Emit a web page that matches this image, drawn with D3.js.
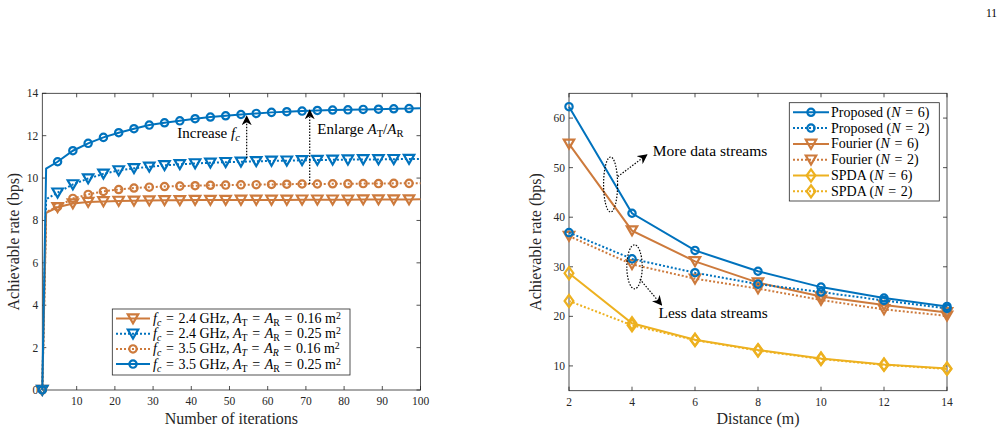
<!DOCTYPE html>
<html>
<head>
<meta charset="utf-8">
<script src="https://cdn.jsdelivr.net/npm/d3@7"></script>
<style>
  body { margin: 0; background: #fff; }
  svg { display: block; }
</style>
</head>
<body>
<svg></svg>
<script>
// ---- left panel data ----
const iters = [1, 2, 5, 9, 13, 17, 21, 25, 29, 33, 37, 41, 45, 49, 53, 57, 61, 65, 69, 73, 77, 81, 85, 89, 93, 97, 100];
const rate24_016 = [0, 8.36, 8.62, 8.8, 8.87, 8.9, 8.92, 8.93, 8.94, 8.95, 8.95, 8.96, 8.96, 8.96, 8.97, 8.97, 8.97, 8.97, 8.98, 8.98, 8.98, 8.98, 8.99, 8.99, 8.99, 8.99, 9.0];
const rate24_025 = [0, 9.0, 9.31, 9.7, 9.98, 10.2, 10.36, 10.46, 10.53, 10.6, 10.65, 10.69, 10.72, 10.75, 10.77, 10.79, 10.81, 10.82, 10.84, 10.85, 10.86, 10.87, 10.88, 10.88, 10.89, 10.9, 10.9];
const rate35_016 = [0, 8.4, 8.65, 9.04, 9.23, 9.37, 9.46, 9.53, 9.57, 9.6, 9.62, 9.64, 9.66, 9.67, 9.68, 9.69, 9.7, 9.71, 9.72, 9.72, 9.73, 9.73, 9.74, 9.74, 9.75, 9.75, 9.75];
const rate35_025 = [0, 10.45, 10.77, 11.29, 11.64, 11.92, 12.14, 12.33, 12.5, 12.61, 12.7, 12.8, 12.88, 12.94, 13.0, 13.05, 13.1, 13.13, 13.16, 13.19, 13.21, 13.22, 13.24, 13.25, 13.27, 13.28, 13.3];
const leftXTicks = [10, 20, 30, 40, 50, 60, 70, 80, 90, 100];
const leftYTicks = [0, 2, 4, 6, 8, 10, 12, 14];

// ---- right panel data ----
const distance = [2, 4, 6, 8, 10, 12, 14];
const proposedN6 = [62.3, 40.8, 33.3, 29.1, 25.9, 23.7, 22.0];
const proposedN2 = [36.9, 31.6, 28.8, 26.5, 24.9, 23.2, 21.6];
const fourierN6 = [54.8, 37.3, 31.1, 26.8, 24.0, 22.3, 20.8];
const fourierN2 = [36.2, 30.5, 27.6, 25.6, 23.3, 21.4, 20.1];
const spdaN6 = [28.7, 18.6, 15.3, 13.2, 11.5, 10.3, 9.5];
const spdaN2 = [23.1, 18.2, 15.2, 13.1, 11.4, 10.2, 9.4];
const rightXTicks = [2, 4, 6, 8, 10, 12, 14];
const rightYTicks = [10, 20, 30, 40, 50, 60];

const blue = "#0072BD", orange = "#CD7A3C", yellow = "#EDB120";
const font = "'Liberation Serif', 'DejaVu Serif', serif";
const EQ = "\u2004=\u2004"; // wider math spacing round "="

const svg = d3.select("svg")
    .attr("width", 1005)
    .attr("height", 434)
    .style("font-family", font);

svg.append("defs").append("marker")
    .attr("id", "arrow")
    .attr("viewBox", "0 0 10 10")
    .attr("refX", 9).attr("refY", 5)
    .attr("markerWidth", 10).attr("markerHeight", 10)
    .attr("markerUnits", "userSpaceOnUse")
    .attr("orient", "auto")
    .append("path")
    .attr("d", "M0,0 L10,5 L0,10 L3,5 Z")
    .attr("fill", "black");

// page number
svg.append("text").attr("x", 997).attr("y", 17).attr("text-anchor", "end")
    .attr("font-size", "11.5px").text("11");

function markerPath(type, size) {
    const s = size;
    if (type === "circle") return d3.symbol(d3.symbolCircle, s * s * 0.52)();
    if (type === "tri") return `M${-s * 0.52},${-s * 0.42} L${s * 0.52},${-s * 0.42} L0,${s * 0.48} Z`;
    if (type === "diamond") return `M0,${-s * 0.55} L${s * 0.4},0 L0,${s * 0.55} L${-s * 0.4},0 Z`;
}

function drawFrame(g, x, y, xTicks, yTicks) {
    const [x0, x1] = x.range(), [y0, y1] = y.range();
    g.append("rect").attr("x", x0).attr("y", y1).attr("width", x1 - x0).attr("height", y0 - y1)
        .attr("fill", "none").attr("stroke", "#262626").attr("stroke-width", 0.8);
    const tl = 4;
    xTicks.forEach(t => {
        g.append("line").attr("x1", x(t)).attr("x2", x(t)).attr("y1", y0).attr("y2", y0 - tl).attr("stroke", "#262626").attr("stroke-width", 0.8);
        g.append("line").attr("x1", x(t)).attr("x2", x(t)).attr("y1", y1).attr("y2", y1 + tl).attr("stroke", "#262626").attr("stroke-width", 0.8);
        g.append("text").attr("x", x(t)).attr("y", y0 + 15).attr("text-anchor", "middle")
            .attr("font-size", "11.5px").attr("fill", "#262626").text(t);
    });
    yTicks.forEach(t => {
        g.append("line").attr("x1", x0).attr("x2", x0 + tl).attr("y1", y(t)).attr("y2", y(t)).attr("stroke", "#262626").attr("stroke-width", 0.8);
        g.append("line").attr("x1", x1).attr("x2", x1 - tl).attr("y1", y(t)).attr("y2", y(t)).attr("stroke", "#262626").attr("stroke-width", 0.8);
        g.append("text").attr("x", x0 - 4).attr("y", y(t) + 4).attr("text-anchor", "end")
            .attr("font-size", "11.5px").attr("fill", "#262626").text(t);
    });
}

function drawSeries(g, xs, ys, x, y, s, showMarker) {
    const pts = xs.map((v, i) => [x(v), y(ys[i])]);
    g.append("path").attr("d", d3.line()(pts))
        .attr("fill", "none").attr("stroke", s.color).attr("stroke-width", 2)
        .attr("stroke-dasharray", s.dash ? "2,2" : null);
    g.selectAll(null).data(pts.filter((p, i) => showMarker(xs[i])))
        .join("path")
        .attr("transform", p => `translate(${p[0]},${p[1]})`)
        .attr("d", markerPath(s.marker, s.size))
        .attr("fill", "none").attr("stroke", s.color).attr("stroke-width", 2.2);
}

function rich(text, parts, size) {
    parts.forEach(p => {
        const t = text.append("tspan").text(p.t);
        if (p.i) t.attr("font-style", "italic");
        if (p.sub) t.attr("font-size", size * 0.7 + "px").attr("baseline-shift", "-25%");
        if (p.sup) t.attr("font-size", size * 0.7 + "px").attr("baseline-shift", "45%");
    });
}

// ================= left panel =================
const xL = d3.scaleLinear().domain([1, 100]).range([42.3, 420.5]);
const yL = d3.scaleLinear().domain([0, 14]).range([390, 93.3]);
const gL = svg.append("g");
drawFrame(gL, xL, yL, leftXTicks, leftYTicks);

function areaLabel(f, a, italicSub) {
    return [{ t: "f", i: 1 }, { t: "c", i: 1, sub: 1 }, { t: EQ + f + " GHz,  " }, { t: "A", i: 1 }, { t: "T", i: italicSub, sub: 1 },
        { t: EQ }, { t: "A", i: 1 }, { t: "R", i: italicSub, sub: 1 }, { t: EQ + a + " m" }, { t: "2", sup: 1 }];
}

const leftSeries = [
    { vals: rate24_016, color: orange, dash: false, marker: "tri", size: 10, label: areaLabel("2.4", "0.16", 0) },
    { vals: rate24_025, color: blue, dash: true, marker: "tri", size: 10, label: areaLabel("2.4", "0.25", 0) },
    { vals: rate35_016, color: orange, dash: true, marker: "circle", size: 9, label: areaLabel("3.5", "0.16", 1) },
    { vals: rate35_025, color: blue, dash: false, marker: "circle", size: 9, label: areaLabel("3.5", "0.25", 0) }
];
leftSeries.forEach(s => drawSeries(gL, iters, s.vals, xL, yL, s, it => (it - 1) % 4 === 0));

// annotations (left)
gL.append("line")
    .attr("x1", xL(54.5)).attr("y1", yL(10.93)).attr("x2", xL(54.5)).attr("y2", yL(12.92))
    .attr("stroke", "black").attr("stroke-width", 1.2).attr("stroke-dasharray", "1.5,1.5")
    .attr("marker-end", "url(#arrow)");
gL.append("line")
    .attr("x1", xL(71)).attr("y1", yL(9.72)).attr("x2", xL(71)).attr("y2", yL(13.2))
    .attr("stroke", "black").attr("stroke-width", 1.2).attr("stroke-dasharray", "1.5,1.5")
    .attr("marker-end", "url(#arrow)");
rich(gL.append("text").attr("x", xL(52.7)).attr("y", yL(11.9)).attr("text-anchor", "end").attr("font-size", "15px"),
    [{ t: "Increase " }, { t: "f", i: 1 }, { t: "c", i: 1, sub: 1 }], 15);
rich(gL.append("text").attr("x", xL(73)).attr("y", yL(12.1)).attr("font-size", "15px"),
    [{ t: "Enlarge " }, { t: "A", i: 1 }, { t: "T", sub: 1 }, { t: "/" }, { t: "A", i: 1 }, { t: "R", sub: 1 }], 15);

// legend (left)
const legL = gL.append("g");
legL.append("rect").attr("x", 112.3).attr("y", 309).attr("width", 237.7).attr("height", 66)
    .attr("fill", "white").attr("stroke", "#262626").attr("stroke-width", 0.8);
leftSeries.forEach((s, i) => {
    const ly = 318.5 + i * 15.2;
    legL.append("line").attr("x1", 116).attr("x2", 150).attr("y1", ly).attr("y2", ly)
        .attr("stroke", s.color).attr("stroke-width", 2).attr("stroke-dasharray", s.dash ? "2,2" : null);
    legL.append("path").attr("transform", `translate(133,${ly})`).attr("d", markerPath(s.marker, s.size))
        .attr("fill", "none").attr("stroke", s.color).attr("stroke-width", 2.2);
    rich(legL.append("text").attr("x", 153).attr("y", ly + 4.5).attr("font-size", "14px"), s.label, 14);
});

gL.append("text").attr("x", xL(50.5)).attr("y", 424).attr("text-anchor", "middle")
    .attr("font-size", "16px").attr("fill", "#262626").text("Number of iterations");
gL.append("text").attr("transform", `translate(19,${(390 + 93.3) / 2}) rotate(-90)`)
    .attr("text-anchor", "middle").attr("font-size", "16px").attr("fill", "#262626")
    .text("Achievable rate (bps)");

// ================= right panel =================
const xR = d3.scaleLinear().domain([2, 14]).range([569, 947]);
const yR = d3.scaleLinear().domain([5, 65]).range([390.7, 93.3]);
const gR = svg.append("g");
drawFrame(gR, xR, yR, rightXTicks, rightYTicks);

const rightSeries = [
    { vals: proposedN6, color: blue, dash: false, marker: "circle", size: 9, name: "Proposed", n: "6" },
    { vals: proposedN2, color: blue, dash: true, marker: "circle", size: 9, name: "Proposed", n: "2" },
    { vals: fourierN6, color: orange, dash: false, marker: "tri", size: 10, name: "Fourier", n: "6" },
    { vals: fourierN2, color: orange, dash: true, marker: "tri", size: 10, name: "Fourier", n: "2" },
    { vals: spdaN6, color: yellow, dash: false, marker: "diamond", size: 11, name: "SPDA", n: "6" },
    { vals: spdaN2, color: yellow, dash: true, marker: "diamond", size: 11, name: "SPDA", n: "2" }
];
rightSeries.slice().reverse().forEach(s => drawSeries(gR, distance, s.vals, xR, yR, s, () => true));

// annotations (right)
function ellipse(cx, cy, rx, ry) {
    gR.append("ellipse").attr("cx", xR(cx)).attr("cy", yR(cy)).attr("rx", rx).attr("ry", ry)
        .attr("fill", "none").attr("stroke", "black").attr("stroke-width", 1.2).attr("stroke-dasharray", "1.5,1.5");
}
ellipse(3.32, 46.6, 7, 27.5);
ellipse(4.08, 30.0, 7.7, 22);
gR.append("line").attr("x1", xR(3.55)).attr("y1", yR(48.2)).attr("x2", xR(4.47)).attr("y2", yR(52.6))
    .attr("stroke", "black").attr("stroke-width", 1.2).attr("stroke-dasharray", "1.5,1.5").attr("marker-end", "url(#arrow)");
gR.append("line").attr("x1", xR(4.25)).attr("y1", yR(27.5)).attr("x2", xR(4.94)).attr("y2", yR(22.3))
    .attr("stroke", "black").attr("stroke-width", 1.2).attr("stroke-dasharray", "1.5,1.5").attr("marker-end", "url(#arrow)");
gR.append("text").attr("x", xR(4.66)).attr("y", yR(52.3)).attr("font-size", "15.5px").text("More data streams");
gR.append("text").attr("x", xR(4.84)).attr("y", yR(19.6)).attr("font-size", "15.5px").text("Less data streams");

// legend (right)
const legR = gR.append("g");
legR.append("rect").attr("x", 789.3).attr("y", 102.7).attr("width", 150).attr("height", 98.3)
    .attr("fill", "white").attr("stroke", "#262626").attr("stroke-width", 0.8);
rightSeries.forEach((s, i) => {
    const ly = 112.3 + i * 15.8;
    legR.append("line").attr("x1", 793).attr("x2", 829).attr("y1", ly).attr("y2", ly)
        .attr("stroke", s.color).attr("stroke-width", 2).attr("stroke-dasharray", s.dash ? "2,2" : null);
    legR.append("path").attr("transform", `translate(811,${ly})`).attr("d", markerPath(s.marker, s.size))
        .attr("fill", "none").attr("stroke", s.color).attr("stroke-width", 2.2);
    rich(legR.append("text").attr("x", 831).attr("y", ly + 4.5).attr("font-size", "14px"),
        [{ t: s.name + " (" }, { t: "N", i: 1 }, { t: EQ + s.n + ")" }], 14);
});

gR.append("text").attr("x", xR(8)).attr("y", 424).attr("text-anchor", "middle")
    .attr("font-size", "16px").attr("fill", "#262626").text("Distance (m)");
gR.append("text").attr("transform", `translate(541,${(390.7 + 93.3) / 2}) rotate(-90)`)
    .attr("text-anchor", "middle").attr("font-size", "16px").attr("fill", "#262626")
    .text("Achievable rate (bps)");
</script>
</body>
</html>
